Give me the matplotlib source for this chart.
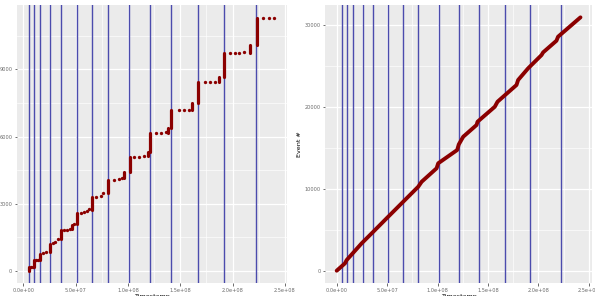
import matplotlib
matplotlib.use('Agg')
import matplotlib.pyplot as plt
from matplotlib.ticker import MultipleLocator, FixedLocator

# event markers (timestamps), shared by both panels
markers = [5.5e6, 1.07e7, 1.6e7, 2.6e7, 3.6e7, 5.1e7, 6.6e7, 8.05e7,
           1.01e8, 1.21e8, 1.41e8, 1.665e8, 1.915e8, 2.22e8]

# left panel: rapid bursts (vertical runs) ...
jump_ts = [5.7e6, 1.05e7, 1.62e7, 2.54e7, 3.59e7, 4.65e7, 5.11e7, 6.61e7, 8.11e7,
           9.62e7, 1.016e8, 1.192e8, 1.213e8, 1.381e8, 1.416e8, 1.613e8,
           1.673e8, 1.867e8, 1.921e8, 2.169e8, 2.23e8]
jump_lo = [0, 160, 470, 850, 1400, 1880, 2080, 2714, 3480,
           4130, 4428, 5143, 5322, 6170, 6366, 7185,
           7500, 8450, 8670, 9750, 10090]
jump_hi = [170, 480, 760, 1190, 1820, 2060, 2566, 3309, 4060,
           4428, 5098, 5322, 6170, 6366, 7185, 7500,
           8450, 8670, 9750, 10090, 11285]
# ... and sparse events in between
dot_ts = [7.5e6, 9e6, 1.25e7, 1.4e7, 1.9e7, 2.15e7, 2.8e7, 3.05e7, 3.3e7,
          3.9e7, 4.2e7, 4.45e7, 4.85e7, 5.5e7, 5.8e7, 6.05e7, 6.3e7,
          6.93e7, 7.4e7, 7.66e7, 8.67e7, 9.14e7, 9.47e7,
          1.057e8, 1.105e8, 1.152e8, 1.264e8, 1.312e8, 1.359e8,
          1.486e8, 1.533e8, 1.581e8, 1.74e8, 1.788e8, 1.835e8,
          1.97e8, 2.018e8, 2.065e8, 2.113e8, 2.289e8, 2.343e8, 2.397e8]
dot_ev = [175, 180, 480, 490, 778, 850, 1225, 1300, 1400,
          1820, 1840, 1880, 2080, 2566, 2638, 2683, 2750,
          3309, 3340, 3460, 4060, 4085, 4130,
          5098, 5098, 5143, 6170, 6170, 6190,
          7185, 7185, 7200, 8450, 8450, 8460,
          9750, 9750, 9750, 9760, 11285, 11290, 11295]

# right panel: cumulative event count
r_ts = [0, 8.2e6, 9.9e6, 2.475e7, 3.47e7, 5.11e7, 5.77e7, 6.76e7, 8.08e7, 8.42e7,
        9.9e7, 1.006e8, 1.194e8, 1.21e8, 1.254e8, 1.386e8, 1.396e8, 1.567e8,
        1.594e8, 1.65e8, 1.782e8, 1.798e8, 1.897e8, 2.03e8, 2.046e8, 2.178e8,
        2.194e8, 2.416e8]
r_ev = [0, 900, 1300, 3340, 4560, 6590, 7400, 8620, 10240, 10850,
        12490, 13100, 14720, 15400, 16340, 17770, 18170, 20000,
        20610, 21220, 22650, 23260, 24680, 26300, 26630, 28050,
        28540, 30900]

xticks = [0, 5e7, 1e8, 1.5e8, 2e8, 2.5e8]
xticklabels = ['0.0e+00', '5.0e+07', '1.0e+08', '1.5e+08', '2.0e+08', '2.5e+08']

red = '#8b0000'
blue = '#4b4bad'

fig = plt.figure(figsize=(5.95, 2.96), dpi=100)
ax1 = fig.add_axes([0.0285, 0.0439, 0.454, 0.939])
ax2 = fig.add_axes([0.5462, 0.0439, 0.4487, 0.939])


def style(ax, yticks, yminor):
    ax.set_facecolor('#ebebeb')
    for s in ax.spines.values():
        s.set_visible(False)
    ax.set_xticks(xticks)
    ax.set_xticklabels(xticklabels)
    ax.xaxis.set_minor_locator(MultipleLocator(2.5e7))
    ax.set_yticks(yticks)
    ax.yaxis.set_minor_locator(FixedLocator(yminor))
    ax.grid(which='major', color='white', lw=0.9)
    ax.grid(which='minor', color='white', lw=0.45)
    ax.set_axisbelow(True)
    ax.tick_params(which='major', length=1.8, width=0.5, color='#333333',
                   labelsize=3.6, labelcolor='#6a6a6a', pad=1.5)
    ax.tick_params(which='minor', length=0)
    ax.set_xlabel('Timestamp', fontsize=4.6, labelpad=1)


for m in markers:
    ax1.axvline(m, color=blue, lw=1.0, zorder=2)
    ax2.axvline(m, color=blue, lw=1.0, zorder=2)

segs = ax1.vlines(jump_ts, jump_lo, jump_hi, color=red, lw=2.3, zorder=3)
segs.set_capstyle('round')
ax1.plot(dot_ts, dot_ev, 'o', color=red, ms=2.4, mew=0, zorder=3)
style(ax1, [0, 3000, 6000, 9000], [1500, 4500, 7500, 10500])
ax1.set_xlim(-6e6, 2.52e8)
ax1.set_ylim(-550, 11880)

ax2.plot(r_ts, r_ev, color=red, lw=2.8, solid_capstyle='round',
         solid_joinstyle='round', zorder=3)
style(ax2, [0, 10000, 20000, 30000], [5000, 15000, 25000])
ax2.set_xlim(-1.16e7, 2.53e8)
ax2.set_ylim(-1500, 32400)
ax2.set_ylabel('Event #', fontsize=4.6, labelpad=2)

fig.savefig('out.png', dpi=100)
